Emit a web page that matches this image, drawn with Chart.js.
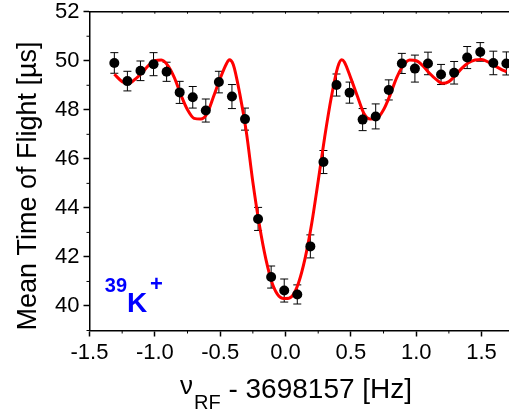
<!DOCTYPE html>
<html>
<head>
    <meta charset="utf-8"/>
    <title>39K+ resonance</title>
    <script src="https://cdn.jsdelivr.net/npm/chart.js@4/dist/chart.umd.min.js"></script>
    <style>
        html, body { margin: 0; padding: 0; background: #fff; }
        .chart-container { width: 509px; height: 415px; }
    </style>
</head>
<body>
    <div class="chart-container">
        <canvas id="myChart"></canvas>
    </div>
    <script>
        // measured points (x offset in Hz, mean TOF in us, error)
        const pointX = [-1.31, -1.21, -1.11, -1.01, -0.91, -0.81, -0.71, -0.61, -0.51, -0.41, -0.31,
                        -0.21, -0.11, -0.01, 0.09, 0.19, 0.29, 0.39, 0.49, 0.59, 0.69,
                        0.79, 0.89, 0.99, 1.09, 1.19, 1.29, 1.39, 1.49, 1.59, 1.69];
        const pointY = [49.91, 49.17, 49.59, 49.86, 49.55, 48.71, 48.51, 47.97, 49.13, 48.54, 47.62,
                        43.55, 41.18, 40.63, 40.47, 42.43, 45.87, 49.01, 48.70, 47.60, 47.73,
                        48.81, 49.89, 49.68, 49.89, 49.44, 49.51, 50.13, 50.36, 49.91, 49.89];
        const pointErr = [0.42, 0.40, 0.40, 0.47, 0.39, 0.45, 0.44, 0.47, 0.44, 0.49, 0.45,
                          0.47, 0.45, 0.47, 0.39, 0.47, 0.47, 0.45, 0.43, 0.45, 0.51,
                          0.41, 0.41, 0.55, 0.46, 0.41, 0.46, 0.45, 0.38, 0.48, 0.47];

        // fitted curve
        const curveX = [-1.31, -1.25, -1.20, -1.15, -1.10, -1.05, -1.00, -0.95, -0.90, -0.85, -0.80,
                        -0.75, -0.70, -0.65, -0.60, -0.55, -0.50, -0.45, -0.43, -0.40, -0.35, -0.30,
                        -0.25, -0.20, -0.15, -0.10, -0.05, 0.00, 0.05, 0.10, 0.15, 0.20, 0.25,
                        0.30, 0.35, 0.40, 0.43, 0.45, 0.50, 0.55, 0.60, 0.65, 0.70, 0.75, 0.80,
                        0.85, 0.90, 0.95, 1.00, 1.05, 1.10, 1.15, 1.20, 1.25, 1.30, 1.35, 1.40,
                        1.45, 1.50, 1.55, 1.60, 1.65, 1.69];
        const curveY = [49.45, 49.15, 49.08, 49.25, 49.50, 49.80, 50.00, 50.03, 49.80, 49.30, 48.60,
                        48.00, 47.65, 47.62, 47.85, 48.55, 49.28, 49.90, 50.04, 49.85, 48.65, 47.10,
                        45.05, 43.30, 41.90, 40.90, 40.40, 40.30, 40.40, 40.95, 41.95, 43.35, 45.10,
                        46.90, 48.50, 49.75, 50.04, 49.95, 49.28, 48.55, 47.85, 47.62, 47.65, 48.00, 48.60,
                        49.30, 49.80, 50.03, 50.00, 49.80, 49.50, 49.25, 49.08, 49.15, 49.40, 49.70, 49.92,
                        50.03, 50.05, 49.95, 49.80, 49.65, 49.55];

        // axes
        const xTicks = [-1.5, -1.0, -0.5, 0.0, 0.5, 1.0, 1.5];
        const xMinor = [-1.25, -0.75, -0.25, 0.25, 0.75, 1.25];
        const xTop = [-1.5, -1.25, -1.0, -0.75, -0.5, -0.25, 0.0, 0.25, 0.5, 0.75, 1.0, 1.25, 1.5];
        const yTicks = [40, 42, 44, 46, 48, 50, 52];
        const yMinor = [39, 41, 43, 45, 47, 49, 51];

        const FONT = "'Liberation Sans', Arial, sans-serif";

        const errorBars = {
            id: 'errorBars',
            beforeDatasetsDraw(chart) {
                const ctx = chart.ctx;
                const xs = chart.scales.x, ys = chart.scales.y;
                ctx.save();
                ctx.strokeStyle = '#000';
                ctx.lineWidth = 1;
                ctx.beginPath();
                for (let i = 0; i < pointX.length; i++) {
                    const px = xs.getPixelForValue(pointX[i]);
                    const top = ys.getPixelForValue(pointY[i] + pointErr[i]);
                    const bot = ys.getPixelForValue(pointY[i] - pointErr[i]);
                    ctx.moveTo(px, top); ctx.lineTo(px, bot);
                    ctx.moveTo(px - 4, top); ctx.lineTo(px + 4, top);
                    ctx.moveTo(px - 4, bot); ctx.lineTo(px + 4, bot);
                }
                ctx.stroke();
                ctx.restore();
            }
        };

        const decor = {
            id: 'decor',
            afterDraw(chart) {
                const ctx = chart.ctx;
                const area = chart.chartArea;
                const xs = chart.scales.x, ys = chart.scales.y;
                ctx.save();
                ctx.strokeStyle = '#000';
                ctx.lineWidth = 1.5;
                ctx.beginPath();
                // top frame
                ctx.moveTo(area.left, area.top); ctx.lineTo(area.right, area.top);
                ctx.stroke();
                ctx.lineWidth = 1;
                ctx.beginPath();
                xMinor.forEach(v => {
                    const px = xs.getPixelForValue(v);
                    ctx.moveTo(px, area.bottom); ctx.lineTo(px, area.bottom + 3);
                });
                yMinor.forEach(v => {
                    const py = ys.getPixelForValue(v);
                    ctx.moveTo(area.left, py); ctx.lineTo(area.left - 3, py);
                });
                xTop.forEach(v => {
                    const px = xs.getPixelForValue(v);
                    ctx.moveTo(px, area.top); ctx.lineTo(px, area.top + 2);
                });
                ctx.stroke();

                // axis titles
                ctx.fillStyle = '#000';
                ctx.textBaseline = 'alphabetic';
                ctx.save();
                ctx.translate(36, 186);
                ctx.rotate(-Math.PI / 2);
                ctx.textAlign = 'center';
                ctx.font = '27px ' + FONT;
                ctx.fillText('Mean Time of Flight [\u00b5s]', 0, 0);
                ctx.restore();

                ctx.textAlign = 'left';
                let x = 180;
                ctx.font = '26px ' + FONT;
                ctx.fillText('\u03bd', x, 394);
                x += ctx.measureText('\u03bd').width + 1;
                ctx.font = '20px ' + FONT;
                ctx.fillText('RF', x, 409);
                x += ctx.measureText('RF').width;
                ctx.font = '28px ' + FONT;
                ctx.fillText(' - 3698157 [Hz]', x, 398);

                // isotope label
                ctx.fillStyle = 'rgb(0, 0, 255)';
                ctx.font = 'bold 20px ' + FONT;
                ctx.textAlign = 'right';
                ctx.fillText('39', 127, 292);
                ctx.textAlign = 'left';
                ctx.font = 'bold 28px ' + FONT;
                ctx.fillText('K', 127, 312);
                ctx.font = 'bold 22px ' + FONT;
                ctx.fillText('+', 150, 291);
                ctx.restore();
            }
        };

        const ctx = document.getElementById('myChart').getContext('2d');
        const myChart = new Chart(ctx, {
            data: {
                datasets: [{
                    type: 'scatter',
                    data: pointX.map((v, i) => ({ x: v, y: pointY[i] })),
                    backgroundColor: '#000',
                    borderWidth: 0,
                    pointRadius: 5,
                }, {
                    type: 'line',
                    data: curveX.map((v, i) => ({ x: v, y: curveY[i] })),
                    borderColor: 'rgb(255, 0, 0)',
                    borderWidth: 3,
                    pointRadius: 0,
                    fill: false,
                    cubicInterpolationMode: 'monotone',
                }]
            },
            options: {
                responsive: true,
                maintainAspectRatio: false,
                animation: false,
                layout: {
                    autoPadding: false,
                    padding: { top: 9, right: 0, bottom: 0, left: 0 }
                },
                plugins: {
                    legend: { display: false },
                    tooltip: { enabled: false },
                },
                scales: {
                    x: {
                        type: 'linear',
                        min: -1.5,
                        max: 1.71,
                        afterBuildTicks: s => { s.ticks = xTicks.map(v => ({ value: v })); },
                        afterFit: s => { s.height = 84.5; },
                        ticks: {
                            color: '#000',
                            padding: 3,
                            maxRotation: 0,
                            font: { family: FONT, size: 22 },
                            callback: v => v.toFixed(1),
                        },
                        grid: {
                            drawOnChartArea: false,
                            tickLength: 6,
                            tickColor: '#000',
                            tickWidth: 1.5,
                        },
                        border: { color: '#000', width: 1.5 },
                    },
                    y: {
                        min: 39,
                        max: 52,
                        afterBuildTicks: s => { s.ticks = yTicks.map(v => ({ value: v })); },
                        afterFit: s => { s.width = 89.5; },
                        ticks: {
                            color: '#000',
                            padding: 4,
                            font: { family: FONT, size: 22, lineHeight: 0.7 },
                            callback: v => v.toFixed(0),
                        },
                        grid: {
                            drawOnChartArea: false,
                            tickLength: 6,
                            tickColor: '#000',
                            tickWidth: 1.5,
                        },
                        border: { color: '#000', width: 1.5 },
                    }
                }
            },
            plugins: [errorBars, decor]
        });
    </script>
</body>
</html>
